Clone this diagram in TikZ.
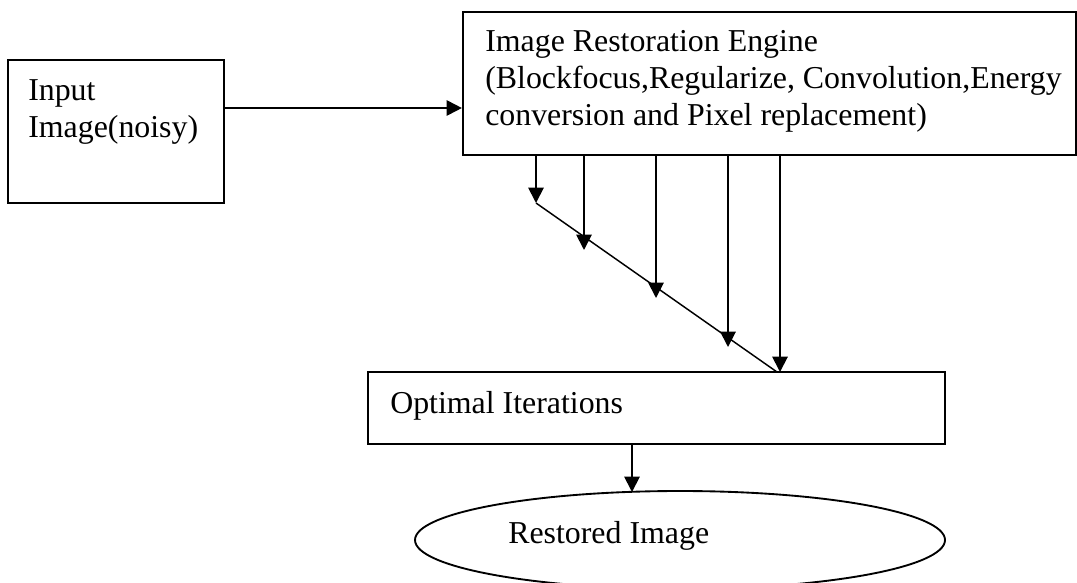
\documentclass[tikz,border=0pt]{standalone}
\usepackage{fontspec}
\setmainfont{Liberation Serif}
\usetikzlibrary{arrows.meta,shapes.geometric}

\tikzset{
  box/.style={draw, line width=1.6pt, rectangle, inner sep=0pt},
  oval/.style={draw, line width=1.4pt, ellipse, inner sep=0pt},
  lbl/.style={inner sep=0pt, align=left,
    font=\fontsize{23.9pt}{27.75pt}\selectfont},
  arr/.style={line width=1.4pt,
    -{Triangle[length=11.5pt, width=11.5pt]}},
  slant/.style={line width=1.1pt}
}

\begin{document}
\begin{tikzpicture}[x=0.75pt, y=-0.75pt]
  \useasboundingbox (0,0) rectangle (1077,582);
  \clip (0,0) rectangle (1077,582);

  % blocks
  \node[box, minimum width=162pt, minimum height=107.25pt] (in) at (116,131.5) {};
  \node[box, minimum width=459.75pt, minimum height=107.25pt] (eng) at (769.5,83.5) {};
  \node[box, minimum width=432.75pt, minimum height=54pt] (opt) at (656.5,408) {};
  \node[oval, minimum width=397.5pt, minimum height=73.5pt] (res) at (680,540) {};

  % labels (anchored on the baseline of their last line)
  \node[lbl, anchor=base west] (intxt) at (28,137) {Input\\Image(noisy)};
  \node[lbl, anchor=base west] (engtxt) at (485,125)
    {Image Restoration Engine\\(Blockfocus,Regularize, Convolution,Energy\\conversion and Pixel replacement)};
  \node[lbl, anchor=base west] (opttxt) at (390,413) {Optimal Iterations};
  \node[lbl, anchor=base west] (restxt) at (508,543) {Restored Image};

  % input to engine
  \coordinate (s) at ([yshift=17.625pt]in.east);
  \draw[arr] (s) -- (s -| eng.west);

  % engine outputs converging on the slanted line
  \coordinate (t1) at (536,203);
  \coordinate (t2) at (584,250);
  \coordinate (t3) at (656,298);
  \coordinate (t4) at (728,347);
  \coordinate (t5) at (780,372);
  \coordinate (d1) at (777,372);
  \draw[slant] (t1) -- (d1);
  \foreach \t in {t1,t2,t3,t4,t5}
    \draw[arr] (\t |- eng.south) -- (\t);

  % iterations to result
  \coordinate (t6) at (632,492);
  \draw[arr] (t6 |- opt.south) -- (t6);
\end{tikzpicture}
\end{document}
